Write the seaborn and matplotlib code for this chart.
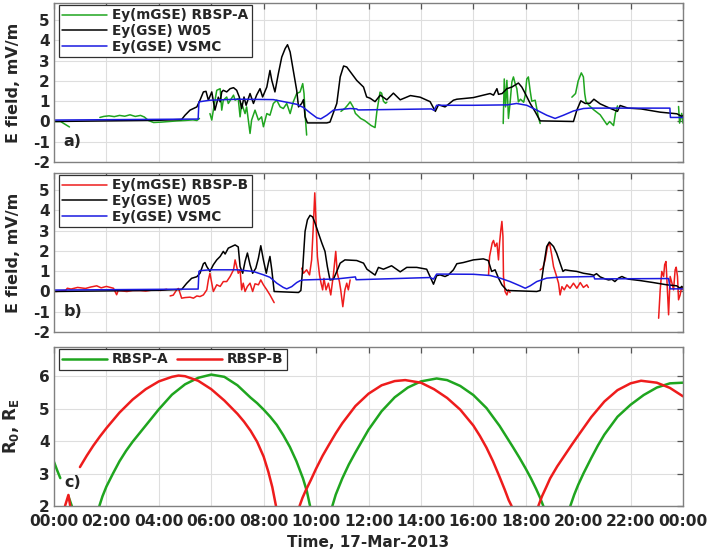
import numpy as np
import pandas as pd
import matplotlib
matplotlib.use("Agg")
import matplotlib.pyplot as plt
from matplotlib.lines import Line2D
import seaborn as sns

nan = np.nan

# ---------------- DATA (hours since 00:00, 17-Mar-2013) ----------------
# Panel a) RBSP-A
a_green_t = [0.0, 0.25, 0.4, 0.59, nan,
             1.75, 1.9, 2.1, 2.3, 2.5, 2.7, 2.9, 3.1, 3.3, 3.45, 3.6, 3.8, 4.1, 4.4, 4.7, 5.0, 5.3, 5.45, 5.55, nan,
             5.95, 6.02, 6.08, 6.21, 6.34, 6.4, 6.46, 6.59, 6.65, 6.85, 6.91, 7.03, 7.1, 7.16, 7.29, 7.35, 7.48, 7.54,
             7.67, 7.8, 7.92, 7.99, 8.12, 8.24, 8.37, 8.5, 8.63, 8.75, 8.88, 9.01, 9.13, 9.26, 9.39, 9.49, 9.54, 9.58, 9.64, nan,
             10.95, 11.1, 11.2, 11.3, 11.42, 11.5, 11.7, 11.85, 12.0, 12.1, 12.25, 12.32, 12.44, 12.5, 12.57, 12.65, 12.7, nan,
             17.14, 17.18, 17.23, 17.28, 17.34, 17.4, 17.47, 17.53, 17.59, 17.66, 17.72, 17.8, 17.92, 17.98, 18.04, 18.1,
             18.17, 18.23, 18.36, 18.48, 18.55, nan,
             19.76, 19.9, 20.0, 20.12, 20.2, 20.25, 20.3, 20.45, 20.6, 20.84, 21.1, 21.2, 21.35, 21.42, 21.5, nan,
             23.83, 23.87, 23.95, 24.0]
a_green_v = [0.0, 0.0, -0.12, -0.27, nan,
             0.2, 0.25, 0.28, 0.24, 0.3, 0.26, 0.33, 0.25, 0.3, 0.22, 0.05, -0.05, -0.03, 0.0, 0.03, 0.05, 0.08, 0.05, 0.15, nan,
             0.39, 0.07, 0.56, 1.54, 1.62, 0.56, 1.05, 1.21, 0.89, 1.3, 1.05, 1.13, 0.23, 0.89, 0.39, 0.72, -0.59, 0.07,
             0.56, 0.07, 0.23, -0.26, 0.39, 0.31, 0.89, 1.05, 0.72, 0.64, 0.89, 0.39, 0.97, 1.38, 1.46, 1.87, 1.38, 0.39, -0.67, nan,
             0.5, 0.65, 0.8, 0.97, 0.7, 0.4, 0.15, 0.05, -0.1, -0.2, -0.3, 0.5, 1.45, 1.4, 1.0, 0.9, 0.95, nan,
             -0.1, 2.1, 0.72, 2.03, 0.15, 0.89, 1.95, 2.2, 1.9, 1.62, 0.97, 1.1, 0.95, 1.3, 2.1, 2.2,
             1.5, 1.0, 1.05, 0.23, -0.1, nan,
             1.2, 1.38, 2.0, 2.4, 2.2, 1.38, 0.97, 0.75, 0.57, 0.33, -0.16, 0.0, -0.2, 0.4, 0.77, nan,
             0.74, -0.08, 0.4, -0.08]

a_w05_t = [0.0, 2.0, 4.0, 4.87, 5.0, 5.19, 5.45, 5.57, 5.7, 5.8, 5.89, 6.02, 6.14, 6.27, 6.34, 6.4, 6.46, 6.59,
           6.72, 6.85, 6.97, 7.07, 7.16, 7.25, 7.33, 7.48, 7.61, 7.73, 7.86, 7.96, 8.12, 8.24, 8.31, 8.43, 8.56,
           8.69, 8.82, 8.91, 9.01, 9.13, 9.26, 9.33, 9.45, 9.52, 9.58, 9.67, 10.41, 10.53, 10.79, 10.92, 11.05,
           11.17, 11.36, 11.55, 11.81, 11.93, 12.06, 12.25, 12.45, 12.7, 12.95, 13.21, 13.6, 13.97, 14.35, 14.55,
           14.67, 14.73, 14.92, 15.05, 15.24, 15.37, 16.0, 16.38, 16.64, 16.77, 16.9, 16.96, 17.1, 17.28, 17.47,
           17.72, 17.85, 17.98, 18.17, 18.36, 18.55, 19.82, 19.95, 20.1, 20.27, 20.45, 20.6, 20.84, 21.2, 21.5,
           21.6, 21.9, 22.4, 23.13, 23.77, 23.95, 24.0]
a_w05_v = [0.0, 0.03, 0.06, 0.1, 0.31, 0.56, 0.72, 1.05, 1.46, 1.49, 1.05, 1.46, 0.56, 1.2, 0.97, 1.46, 1.54, 1.46,
           1.62, 1.67, 1.54, 1.21, 0.64, 1.21, 0.8, 1.38, 0.89, 1.3, 1.62, 1.21, 1.7, 2.52, 2.03, 1.46, 2.36,
           3.18, 3.6, 3.79, 3.43, 2.52, 1.54, 0.72, 0.89, 1.08, 0.23, -0.07, -0.07, -0.03, 0.89, 2.2, 2.74,
           2.69, 2.36, 2.03, 1.7, 1.21, 1.15, 0.98, 1.3, 1.07, 1.4, 1.07, 1.28, 1.2, 0.98, 0.5,
           0.82, 0.8, 0.72, 0.85, 1.05, 1.1, 1.18, 1.3, 1.38, 1.3, 1.62, 1.34, 1.38, 1.62, 1.7,
           1.9, 1.7, 1.38, 0.89, 0.48, 0.03, 0.0, 0.56, 1.02, 0.89, 0.9, 1.1, 0.87, 0.66, 0.5,
           0.79, 0.66, 0.62, 0.46, 0.38, 0.25, 0.3]

a_vsmc_t = [0.0, 5.5, 5.53, 5.95, 7.0, 8.37, 8.8, 9.26, 9.52, 9.77, 10.03, 10.18, 10.41, 10.66, 11.3, 11.55,
            11.6, 14.4, 14.5, 14.6, 16.0, 17.3, 17.65, 18.04, 18.42, 18.8, 19.12, 19.44, 19.82, 20.2, 20.45,
            23.5, 23.52, 24.0]
a_vsmc_v = [0.07, 0.12, 0.97, 1.05, 1.1, 1.08, 0.97, 0.85, 0.69, 0.43, 0.18, 0.13, 0.31, 0.56, 0.64, 0.62,
            0.57, 0.62, 0.55, 0.8, 0.8, 0.82, 0.89, 0.8, 0.56, 0.31, 0.15, 0.31, 0.52, 0.64, 0.66,
            0.66, 0.2, 0.2]

# Panel b) RBSP-B
b_red_t = [0.06, 0.44, 0.51, 0.65, 0.9, 1.2, 1.4, 1.63, 1.8, 2.0, 2.27, 2.39, 2.45, 2.78, 3.0, 3.28, 3.5, 3.79, 4.05, 4.3, nan,
           4.43, 4.55, 4.68, 4.75, 4.8, 4.87, 5.0, 5.19, 5.32, 5.45, 5.57, 5.7, 5.83, 5.89, 5.95, 6.02, 6.08, 6.21,
           6.34, 6.46, 6.59, 6.72, 6.85, 6.91, 6.97, 7.03, 7.1, 7.16, 7.22, 7.29, 7.38, 7.48, 7.58, 7.67, 7.8,
           7.89, 7.99, 8.12, 8.24, 8.4, nan,
           9.45, 9.52, 9.64, 9.75, 9.83, 9.9, 9.95, 10.0, 10.05, 10.13, 10.19, 10.25, 10.3, 10.38, 10.47, 10.56,
           10.66, 10.75, 10.81, 10.89, 10.94, 11.02, 11.1, 11.17, 11.23, 11.3, nan,
           16.58, 16.62, 16.67, 16.72, 16.77, 16.83, 16.9, 16.96, 17.0, 17.05, 17.09, 17.13, 17.15, 17.21, 17.28,
           17.34, 17.4, nan,
           18.55, 18.65, 18.74, 18.83, 18.91, 19.0, 19.06, 19.16, 19.25, 19.31, 19.38, 19.47, 19.57, 19.69, 19.82,
           19.95, 20.08, 20.2, 20.33, 20.39, nan,
           23.07, 23.13, 23.19, 23.26, 23.3, 23.35, 23.38, 23.45, 23.51, 23.58, 23.64, 23.7, 23.74, 23.79, 23.83,
           23.89, 23.95, 24.0]
b_red_v = [0.0, 0.05, 0.16, 0.12, 0.2, 0.15, 0.22, 0.28, 0.18, 0.25, 0.16, -0.16, 0.05, 0.0, 0.05, 0.05, 0.02, 0.08, 0.05, 0.11, nan,
           -0.22, -0.18, 0.08, 0.15, -0.05, -0.33, -0.3, -0.28, -0.33, -0.22, -0.25, -0.17, 0.08, 0.57, 0.9, 0.41, 0.0, 0.33,
           0.25, 0.49, 0.49, 0.74, 1.07, 1.56, 1.23, 0.9, 1.07, 0.08, 0.41, 0.0, 0.25, 0.41, 0.0, 0.38, 0.33,
           0.57, 0.33, 0.08, -0.17, -0.55, nan,
           1.15, 0.9, 1.07, 0.82, 1.56, 3.38, 4.87, 3.38, 1.73, 0.82, 0.41, 0.08, 0.65, 0.08, 0.41, -0.17,
           0.82, 1.98, 0.9, 0.49, 0.08, -0.75, 0.08, 0.41, 0.08, 0.57, nan,
           0.82, 1.73, 2.06, 2.39, 2.52, 2.22, 2.39, 1.56, 2.39, 3.05, 3.46, 2.72, 0.74, 0.0, -0.17,
           0.08, -0.05, nan,
           1.07, 1.15, 1.56, 2.22, 2.39, 1.73, 1.23, 0.82, 0.41, -0.17, 0.24, 0.08, 0.33, 0.16, 0.41,
           0.16, 0.44, 0.2, 0.33, 0.2, nan,
           -1.32, 0.08, 0.99, 0.74, 1.32, 1.48, 0.74, -1.15, 0.74, 0.41, 0.08, 1.07, 1.2, 0.74, -0.41,
           -0.17, 0.24, 0.08]

b_w05_t = [0.0, 2.0, 4.0, 4.87, 5.06, 5.25, 5.45, 5.57, 5.7, 5.76, 5.83, 5.95, 6.08, 6.21, 6.34, 6.46, 6.53,
           6.65, 6.78, 6.91, 7.03, 7.1, 7.2, 7.29, 7.38, 7.48, 7.58, 7.7, 7.8, 7.89, 7.99, 8.1, 8.18, 8.24,
           8.31, 8.4, 9.33, 9.42, 9.49, 9.58, 9.67, 9.77, 9.87, 9.96, 10.09, 10.22, 10.34, 10.43, 10.53, 10.66,
           10.79, 10.92, 11.1, 11.55, 11.81, 11.94, 12.25, 12.38, 12.57, 12.88, 13.21, 13.46, 13.84, 14.22,
           14.48, 14.6, 14.73, 14.92, 15.05, 15.24, 15.37, 15.62, 16.0, 16.38, 16.57, 16.7, 16.83, 16.96, 17.09,
           17.28, 18.42, 18.55, 18.68, 18.8, 18.9, 19.06, 19.18, 19.31, 19.42, 19.5, 19.69, 19.95, 20.2, 20.45,
           20.6, 20.7, 20.84, 21.03, 21.16, 21.29, 21.4, 21.54, 21.67, 21.8, 21.92, 22.36, 22.87, 23.38, 23.76,
           23.89, 23.95, 24.0]
b_w05_v = [0.0, 0.03, 0.06, 0.1, 0.4, 0.65, 0.73, 0.9, 1.37, 1.43, 1.23, 0.99, 1.32, 1.56, 1.73, 1.98, 1.85,
           2.14, 2.22, 2.3, 2.2, 1.23, 0.9, 1.48, 1.9, 1.32, 0.9, 1.15, 1.65, 2.26, 1.56, 0.9, 1.4, 1.73,
           1.07, 0.0, -0.05, 0.05, 1.15, 2.97, 3.54, 3.76, 3.68, 3.38, 2.88, 2.39, 1.98, 1.23, 0.57, 0.6,
           0.99, 1.4, 1.56, 1.53, 1.4, 1.1, 0.81, 1.19, 1.1, 1.27, 0.97, 1.19, 1.19, 1.1,
           0.36, 0.78, 0.82, 0.74, 0.82, 1.07, 1.37, 1.43, 1.56, 1.61, 1.53, 0.99, 1.07, 0.66, 0.33,
           0.05, 0.0, 0.05, 1.23, 2.22, 2.44, 2.22, 1.89, 1.4, 0.99, 1.07, 1.03, 0.99, 0.9, 0.85,
           0.8, 0.88, 0.72, 0.62, 0.57, 0.6, 0.49, 0.66, 0.74, 0.66, 0.61, 0.54, 0.44, 0.33, 0.28,
           0.16, 0.25, 0.2]

b_vsmc_t = [0.0, 5.5, 5.53, 5.57, 5.95, 7.0, 7.6, 8.0, 8.24, 8.5, 8.75, 8.88, 9.07, 9.26, 9.4, 9.52, 10.79,
            11.5, 11.53, 14.35, 14.48, 14.6, 16.0, 16.64, 17.02, 17.4, 17.78, 17.98, 18.17, 18.42, 18.8, 19.3,
            20.6, 20.63, 23.45, 23.51, 24.0]
b_vsmc_v = [0.07, 0.12, 0.99, 1.03, 1.07, 1.07, 0.99, 0.82, 0.7, 0.41, 0.2, 0.13, 0.24, 0.44, 0.54, 0.57, 0.62,
            0.72, 0.58, 0.69, 0.61, 0.86, 0.85, 0.79, 0.66, 0.49, 0.28, 0.16, 0.28, 0.49, 0.66, 0.71,
            0.74, 0.62, 0.64, 0.13, 0.13]

# Panel c) R0 of both probes
c_a_t = [0.0, 0.12, 0.24, nan, 0.55, 0.68, nan,
         1.73, 1.85, 2.0, 2.25, 2.5, 2.75, 3.0, 3.5, 4.0, 4.5, 5.0, 5.5, 6.0, 6.5, 7.0, 7.5, 7.75, 8.0, 8.25,
         8.5, 8.75, 9.0, 9.25, 9.5, 9.65, 9.77, nan,
         10.62, 10.75, 10.9, 11.0, 11.25, 11.5, 12.0, 12.5, 13.0, 13.5, 14.0, 14.6, 15.0, 15.5, 16.0, 16.5,
         17.0, 17.25, 17.5, 17.75, 18.0, 18.2, 18.4, 18.55, 18.67, nan,
         19.7, 19.85, 20.0, 20.2, 20.5, 20.75, 21.0, 21.5, 22.0, 22.5, 23.0, 23.5, 24.0]
c_a_v = [3.36, 3.1, 2.86, nan, 2.3, 2.0, nan,
         2.0, 2.3, 2.6, 3.0, 3.38, 3.7, 3.98, 4.48, 4.98, 5.43, 5.75, 5.95, 6.05, 5.98, 5.72, 5.34, 5.17, 4.97, 4.75,
         4.5, 4.18, 3.82, 3.38, 2.85, 2.45, 2.0, nan,
         2.0, 2.35, 2.65, 2.85, 3.28, 3.65, 4.35, 4.92, 5.35, 5.65, 5.84, 5.93, 5.88, 5.7, 5.42, 5.02,
         4.47, 4.15, 3.83, 3.5, 3.15, 2.85, 2.52, 2.25, 2.0, nan,
         2.0, 2.35, 2.65, 3.0, 3.48, 3.86, 4.2, 4.75, 5.12, 5.42, 5.65, 5.78, 5.8]

c_b_t = [0.42, 0.55, 0.62, nan,
         0.99, 1.25, 1.5, 1.75, 2.0, 2.5, 3.0, 3.5, 4.0, 4.5, 4.75, 5.0, 5.5, 6.0, 6.5, 7.0, 7.25, 7.5, 7.75,
         8.0, 8.18, 8.33, 8.47, nan,
         9.37, 9.48, 9.6, 9.8, 10.0, 10.25, 10.5, 10.75, 11.0, 11.5, 12.0, 12.5, 13.0, 13.4, 14.0, 14.5, 15.0,
         15.5, 16.0, 16.25, 16.5, 16.75, 17.0, 17.2, 17.35, 17.46, nan,
         18.48, 18.62, 18.78, 18.93, 19.2, 19.5, 19.75, 20.0, 20.5, 21.0, 21.5, 22.0, 22.4, 23.0, 23.5, 24.0]
c_b_v = [2.0, 2.34, 2.0, nan,
         3.2, 3.55, 3.86, 4.14, 4.4, 4.88, 5.28, 5.6, 5.84, 5.98, 6.02, 6.0, 5.86, 5.6, 5.25, 4.84, 4.6, 4.32, 3.98,
         3.52, 3.05, 2.58, 2.0, nan,
         2.0, 2.25, 2.47, 2.8, 3.15, 3.55, 3.9, 4.24, 4.55, 5.08, 5.46, 5.72, 5.85, 5.88, 5.8, 5.6, 5.33,
         4.97, 4.48, 4.16, 3.8, 3.38, 2.9, 2.5, 2.18, 2.0, nan,
         2.0, 2.3, 2.58, 2.85, 3.22, 3.58, 3.88, 4.17, 4.74, 5.22, 5.57, 5.78, 5.86, 5.8, 5.64, 5.38]

x_tick_hours = list(range(0, 25, 2))
x_tick_labels = ["00:00", "02:00", "04:00", "06:00", "08:00", "10:00", "12:00",
                 "14:00", "16:00", "18:00", "20:00", "22:00", "00:00"]
e_ticks = [-2, -1, 0, 1, 2, 3, 4, 5]
r_ticks = [2, 3, 4, 5, 6]

# ---------------- STYLE ----------------
sns.set_style("white")
plt.rcParams["font.family"] = ["DejaVu Sans"]
plt.rcParams["font.weight"] = "bold"
plt.rcParams["mathtext.fontset"] = "dejavusans"
plt.rcParams["mathtext.default"] = "bf"

GREEN = "#1fa51f"
RED = "#ee1c1c"
BLUE = "#1a1ae0"
BLACK = "#000000"
SPINE = "#808080"


def to_frame(t, v):
    df = pd.DataFrame({"t": np.asarray(t, float), "v": np.asarray(v, float)})
    df["seg"] = df["v"].isna().cumsum()
    return df.dropna().reset_index(drop=True)


def draw(ax, t, v, color, lw):
    df = to_frame(t, v)
    sns.lineplot(data=df, x="t", y="v", units="seg", estimator=None, sort=False,
                 color=color, linewidth=lw, ax=ax, legend=False)


W, H = 709, 555
fig = plt.figure(figsize=(W / 100, H / 100), dpi=100)


def add_axes(left, top, right, bottom):
    return fig.add_axes([left / W, 1 - bottom / H, (right - left) / W, (bottom - top) / H])


ax_a = add_axes(54, 3, 683, 162)
ax_b = add_axes(54, 173, 683, 332)
ax_c = add_axes(54, 347, 683, 506)

lw_e = 1.1
draw(ax_a, a_green_t, a_green_v, GREEN, lw_e)
draw(ax_a, a_w05_t, a_w05_v, BLACK, lw_e)
draw(ax_a, a_vsmc_t, a_vsmc_v, BLUE, lw_e)

draw(ax_b, b_red_t, b_red_v, RED, lw_e)
draw(ax_b, b_w05_t, b_w05_v, BLACK, lw_e)
draw(ax_b, b_vsmc_t, b_vsmc_v, BLUE, lw_e)

lw_c = 1.8
draw(ax_c, c_a_t, c_a_v, GREEN, lw_c)
draw(ax_c, c_b_t, c_b_v, RED, lw_c)

for ax in (ax_a, ax_b, ax_c):
    ax.set_xlim(0, 24)
    ax.set_xticks(x_tick_hours)
    ax.grid(True, color="#dedede", linewidth=0.8)
    ax.set_axisbelow(True)
    for s in ax.spines.values():
        s.set_color(SPINE)
        s.set_linewidth(1.0)
        s.set_visible(True)
    ax.tick_params(direction="in", length=4, width=0.9, color="#555555",
                   top=True, right=True, labelsize=11, pad=3)
    ax.set_xlabel("")

for ax in (ax_a, ax_b):
    ax.set_ylim(-2, 5.85)
    ax.set_yticks(e_ticks)
    ax.set_yticklabels([str(v) for v in e_ticks], fontweight="bold", fontsize=11)
    ax.set_xticklabels([])
    ax.set_ylabel("E field, mV/m", fontsize=11.5, fontweight="bold")

ax_c.set_ylim(2, 6.9)
ax_c.set_yticks(r_ticks)
ax_c.set_yticklabels([str(v) for v in r_ticks], fontweight="bold", fontsize=11)
ax_c.set_xticklabels(x_tick_labels, fontweight="bold", fontsize=11.2)
ax_c.tick_params(axis="x", pad=6)
ax_c.set_ylabel("R$_0$, R$_E$", fontsize=12, fontweight="bold")
ax_c.set_xlabel("Time, 17-Mar-2013", fontsize=11, fontweight="bold", labelpad=4)

for ax in (ax_a, ax_b, ax_c):
    ax.yaxis.set_label_coords(-0.053, 0.5)

ax_a.text(0.03, 0.13, "a)", transform=ax_a.transAxes, fontsize=11.5, fontweight="bold",
          ha="center", va="center")
ax_b.text(0.03, 0.13, "b)", transform=ax_b.transAxes, fontsize=11.5, fontweight="bold",
          ha="center", va="center")
ax_c.text(0.03, 0.145, "c)", transform=ax_c.transAxes, fontsize=11.5, fontweight="bold",
          ha="center", va="center")

leg_kw = dict(loc="upper left", frameon=True, fancybox=False, framealpha=1, borderaxespad=0,
              prop={"weight": "bold", "size": 9.8}, handlelength=3.3, handletextpad=0.35,
              borderpad=0.25, labelspacing=0.12)


def legend(ax, items, **extra):
    handles = [Line2D([], [], color=c, lw=w) for c, w, _ in items]
    labels = [l for _, _, l in items]
    kw = dict(leg_kw)
    kw.update(extra)
    lg = ax.legend(handles, labels, bbox_to_anchor=(5 / 629, 1 - 2 / 159), **kw)
    lg.get_frame().set_edgecolor("#303030")
    lg.get_frame().set_linewidth(0.9)
    return lg


legend(ax_a, [(GREEN, lw_e, "Ey(mGSE) RBSP-A"), (BLACK, lw_e, "Ey(GSE) W05"),
              (BLUE, lw_e, "Ey(GSE) VSMC")])
legend(ax_b, [(RED, lw_e, "Ey(mGSE) RBSP-B"), (BLACK, lw_e, "Ey(GSE) W05"),
              (BLUE, lw_e, "Ey(GSE) VSMC")])
legend(ax_c, [(GREEN, lw_c, "RBSP-A"), (RED, lw_c, "RBSP-B")], ncol=2, columnspacing=0.6)

fig.savefig("out.png", dpi=100)
